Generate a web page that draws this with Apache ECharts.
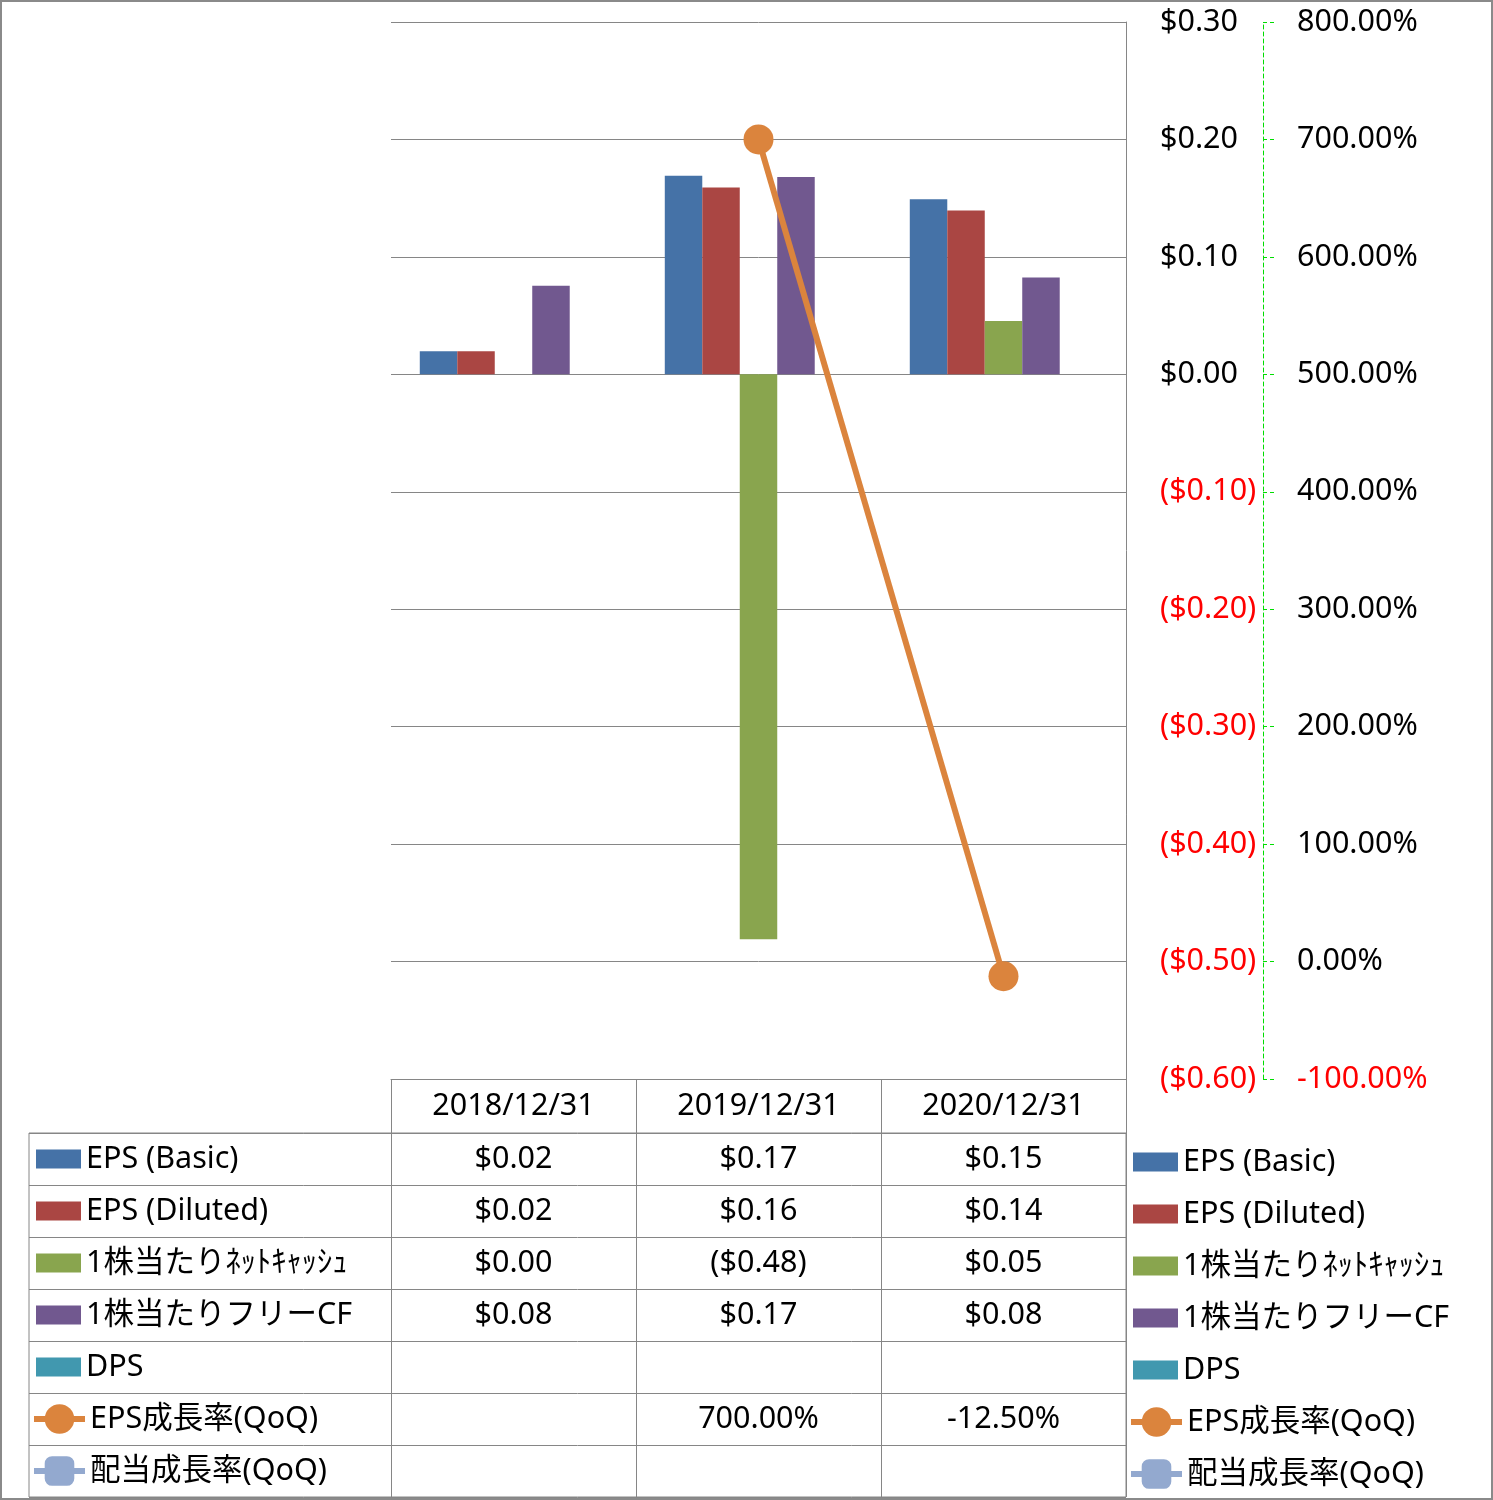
<!DOCTYPE html>
<html><head><meta charset="utf-8">
<script src="https://cdn.jsdelivr.net/npm/echarts@6/dist/echarts.min.js"></script>
<style>
html,body{margin:0;padding:0;background:#fff;}
#c{position:absolute;left:0;top:0;width:1493px;height:1500px;}
#frame{position:absolute;left:0;top:0;width:1493px;height:1500px;box-sizing:border-box;border:2px solid #8a8a8a;pointer-events:none;}
</style></head><body>
<div id="c"></div><div id="frame"></div>
<script>
// ---- data ----
const categories = ['2018/12/31', '2019/12/31', '2020/12/31'];
const epsBasic = [0.0196, 0.169, 0.149];
const epsDiluted = [0.0196, 0.159, 0.1395];
const netCashPerShare = [0.00, -0.481, 0.0455];
const freeCfPerShare = [0.0755, 0.168, 0.0825];
const dps = [null, null, null];
const epsGrowth = [null, 700, -12.5];
const dpsGrowth = [null, null, null];
const seriesNames = ['EPS (Basic)', 'EPS (Diluted)', '1株当たりﾈｯﾄｷｬｯｼｭ', '1株当たりフリーCF', 'DPS', 'EPS成長率(QoQ)', '配当成長率(QoQ)'];
const leftAxisRange = { min: -0.6, max: 0.3, interval: 0.1 };
const rightAxisRange = { min: -100, max: 800, interval: 100 };

// ---- styles ----
const FONT = "'Noto Sans', 'Noto Sans CJK JP', sans-serif";
const FS = 30.5;
const GRAY = '#868686';
const RED = '#ff0000';
const colors = ['#4572A7', '#AA4643', '#89A54E', '#71588F', '#4198AF', '#DB843D', '#93A9CF'];

const barData = [epsBasic, epsDiluted, netCashPerShare, freeCfPerShare, dps];
const lineData = [epsGrowth, dpsGrowth];
const isBar = [true, true, true, true, true, false, false];

function fmtMoney(v) {
  return v < 0 ? '($' + Math.abs(v).toFixed(2) + ')' : '$' + v.toFixed(2);
}
function fmtPct(v) {
  return v.toFixed(2) + '%';
}

const series = [];
barData.forEach((d, i) => {
  series.push({
    name: seriesNames[i], type: 'bar', xAxisIndex: 0, yAxisIndex: 0,
    data: d, barGap: '0%', barCategoryGap: '23.5%',
    itemStyle: { color: colors[i] }
  });
});
series.push({
  name: seriesNames[5], type: 'line', xAxisIndex: 0, yAxisIndex: 1,
  data: epsGrowth, symbol: 'circle', symbolSize: 30,
  lineStyle: { width: 6, color: colors[5] }, itemStyle: { color: colors[5] }, z: 5
});
series.push({
  name: seriesNames[6], type: 'line', xAxisIndex: 0, yAxisIndex: 1,
  data: dpsGrowth, symbol: 'roundRect', symbolSize: [30, 28],
  lineStyle: { width: 6, color: colors[6] }, itemStyle: { color: colors[6] }, z: 5
});

// table cells
const cellData = [];
barData.forEach((d, r) => d.forEach((v, c) => {
  if (v !== null && v !== undefined) cellData.push({ value: [c, r], name: fmtMoney(v) });
}));
lineData.forEach((d, k) => d.forEach((v, c) => {
  if (v !== null && v !== undefined) cellData.push({ value: [c, 5 + k], name: fmtPct(v) });
}));
series.push({
  type: 'scatter', xAxisIndex: 1, yAxisIndex: 2, symbolSize: 0, silent: true,
  itemStyle: { color: '#000', opacity: 1 },
  data: cellData,
  label: {
    show: true, position: 'inside', formatter: '{b}', fontSize: FS, color: '#000',
    fontFamily: FONT, textBorderWidth: 0, textShadowBlur: 0, opacity: 1
  }
});

// legends (one per row, left table column and right side)
const legends = [];
const rowTop = 1133, rowH = 52;
seriesNames.forEach((n, i) => {
  const center = rowTop + rowH * (i + 0.5);
  const common = {
    data: [n], orient: 'horizontal', padding: 0, selectedMode: false,
    textStyle: { fontSize: FS, color: '#000', fontFamily: FONT, lineHeight: 38 }
  };
  const iconCfg = isBar[i]
    ? { icon: 'rect', itemWidth: 45, itemHeight: 19 }
    : { itemWidth: 51, itemHeight: 37, lineStyle: { width: 6, color: colors[i] }, itemStyle: { color: colors[i] } };
  legends.push(Object.assign({}, common, iconCfg, { left: isBar[i] ? 36 : 31, top: center - 19 }));
  legends.push(Object.assign({}, common, iconCfg, { left: isBar[i] ? 1133 : 1128, top: center + 3 - 19 }));
});

const option = {
  animation: false,
  textStyle: { fontFamily: FONT },
  legend: legends,
  grid: [
    { left: 391, top: 22, width: 735, height: 1057 },
    { left: 391, top: 1133, width: 735, height: 364 },
    { left: 29, top: 1133, width: 1097, height: 364, show: true, borderColor: GRAY, borderWidth: 1, backgroundColor: 'transparent' }
  ],
  xAxis: [
    {
      gridIndex: 0, type: 'category', data: categories,
      axisLine: { show: true, onZero: false, lineStyle: { color: GRAY, width: 1 } },
      axisTick: { show: true, length: 54, alignWithLabel: false, lineStyle: { color: GRAY, width: 1 } },
      axisLabel: { fontSize: FS, color: '#000', margin: 12, lineHeight: 30, fontFamily: FONT },
      splitLine: { show: false }
    },
    {
      gridIndex: 1, type: 'category', data: categories,
      axisLine: { show: false }, axisTick: { show: false }, axisLabel: { show: false },
      splitLine: { show: true, lineStyle: { color: GRAY, width: 1 } }
    },
    { gridIndex: 2, type: 'value', min: 0, max: 1, show: false }
  ],
  yAxis: [
    {
      gridIndex: 0, type: 'value', position: 'right',
      min: leftAxisRange.min, max: leftAxisRange.max, interval: leftAxisRange.interval,
      axisLine: { show: true, lineStyle: { color: GRAY, width: 1 } },
      axisTick: { show: false },
      axisLabel: {
        fontSize: FS, margin: 34, align: 'left', fontFamily: FONT,
        formatter: v => fmtMoney(Math.round(v * 100) / 100),
        color: v => (Number(v) < -1e-9 ? RED : '#000')
      },
      splitLine: { show: true, lineStyle: { color: GRAY, width: 1 } }
    },
    {
      gridIndex: 0, type: 'value', position: 'right', offset: 137,
      min: rightAxisRange.min, max: rightAxisRange.max, interval: rightAxisRange.interval,
      axisLine: { show: true, lineStyle: { color: '#00dd00', width: 1, type: [4, 3] } },
      axisTick: { show: true, length: 12, lineStyle: { color: '#00dd00', width: 1, type: [4, 3] } },
      axisLabel: {
        fontSize: FS, margin: 34, align: 'left', fontFamily: FONT,
        formatter: v => fmtPct(Math.round(v * 100) / 100),
        color: v => (Number(v) < -1e-9 ? RED : '#000')
      },
      splitLine: { show: false }
    },
    {
      gridIndex: 1, type: 'category', inverse: true, data: seriesNames,
      axisLine: { show: false }, axisTick: { show: false }, axisLabel: { show: false },
      splitLine: { show: false }
    },
    {
      gridIndex: 2, type: 'category', inverse: true, data: seriesNames,
      axisLine: { show: false }, axisTick: { show: false }, axisLabel: { show: false },
      splitLine: { show: true, lineStyle: { color: GRAY, width: 1 } }
    }
  ],
  series: series
};

const chart = echarts.init(document.getElementById('c'), null, { renderer: 'canvas' });
chart.setOption(option);
</script>
</body></html>
